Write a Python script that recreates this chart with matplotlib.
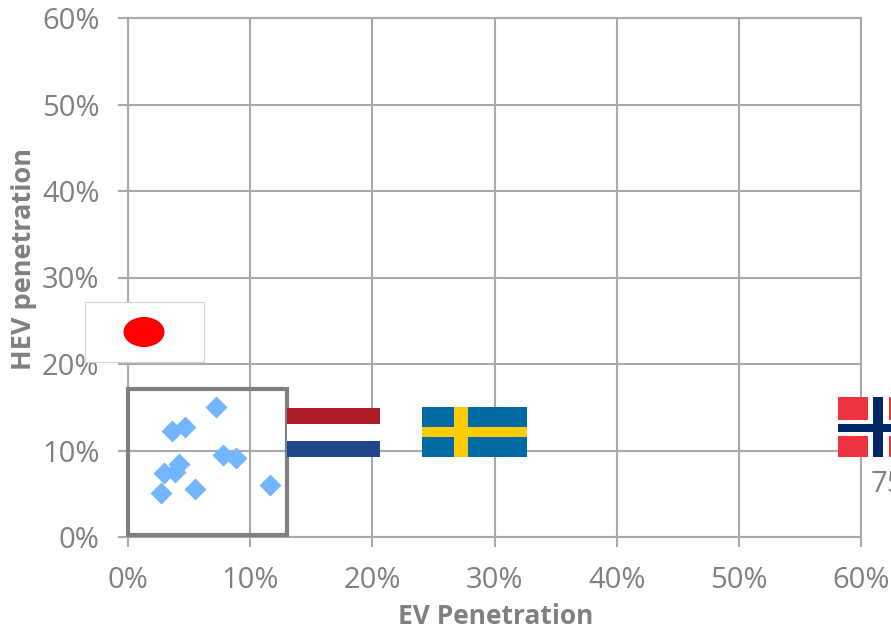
import matplotlib
matplotlib.use('Agg')
import matplotlib.pyplot as plt
from matplotlib.patches import Rectangle, Ellipse

# EV vs HEV penetration, percent
ev_penetration = [7.23, 3.57, 4.64, 7.8, 8.84, 11.6, 4.15, 3.85, 2.97, 2.7, 5.46]
hev_penetration = [15.0, 12.3, 12.7, 9.5, 9.1, 6.0, 8.4, 7.5, 7.4, 5.1, 5.6]
x_ticks = [0, 10, 20, 30, 40, 50, 60]
y_ticks = [0, 10, 20, 30, 40, 50, 60]

W, H = 891, 630
GREY = '#808080'
GRID = '#A9A9A9'

plt.rcParams['font.family'] = ['Open Sans', 'DejaVu Sans']

fig = plt.figure(figsize=(W / 100, H / 100), dpi=100)
ax = fig.add_axes([128 / W, 1 - 537 / H, (861 - 128) / W, (537 - 18) / H])
ax.set_xlim(0, 60)
ax.set_ylim(0, 60)
ax.set_xticks(x_ticks)
ax.set_yticks(y_ticks)
ax.set_xticklabels([f'{t}%' for t in x_ticks])
ax.set_yticklabels([f'{t}%' for t in y_ticks])
ax.grid(True, color=GRID, linewidth=1.5)
ax.set_axisbelow(True)
for s in ax.spines.values():
    s.set_color(GRID)
    s.set_linewidth(1.5)
ax.tick_params(colors=GREY, labelsize=21, length=7, width=1.5, color=GRID)
ax.tick_params(axis='y', pad=13.5)
ax.tick_params(axis='x', pad=14)

# box around the cluster
ax.add_patch(Rectangle((0, 0.2), 13.05, 16.9, fill=False, edgecolor='#7F7F7F', linewidth=3, zorder=5, clip_on=False))
ax.scatter(ev_penetration, hev_penetration, marker='D', s=125, color='#74B5FF', linewidths=0, zorder=6)

fig.text(496 / W, 1 - 616 / H, 'EV Penetration', color=GREY, fontsize=19, fontweight='bold', ha='center', va='center')
fig.text(24 / W, 1 - 259 / H, 'HEV penetration', color=GREY, fontsize=19.5, fontweight='bold', rotation=90, ha='center', va='center')
fig.text(871 / W, 1 - 485 / H, '75%', color=GREY, fontsize=21, ha='left', va='center')

# flags, in pixel coordinates on an overlay
ov = fig.add_axes([0, 0, 1, 1])
ov.set_xlim(0, W)
ov.set_ylim(H, 0)
ov.axis('off')


def box(x0, y0, x1, y1, color, **kw):
    ov.add_patch(Rectangle((x0, y0), x1 - x0, y1 - y0, facecolor=color, edgecolor='none', **kw))


# Japan
ov.add_patch(Rectangle((85, 302), 119, 60, facecolor='white', edgecolor='#D4D4D4', linewidth=0.8))
ov.add_patch(Ellipse((144, 332), 41, 30, facecolor='#FF0000', edgecolor='none'))

# Netherlands
box(287, 408, 380, 424, '#AE1C28')
box(287, 424, 380, 441, 'white')
box(287, 441, 380, 457, '#21468B')

# Sweden
box(422, 407, 527, 457, '#006AA7')
box(454, 407, 468, 457, '#FECC00')
box(422, 427, 527, 437, '#FECC00')

# Norway
box(838, 397, 891, 457, '#EF3340')
box(868, 397, 889, 457, 'white')
box(838, 420, 891, 436, 'white')
box(873, 397, 883, 457, '#002868')
box(838, 424, 891, 432, '#002868')

fig.savefig('out.png', dpi=100)
